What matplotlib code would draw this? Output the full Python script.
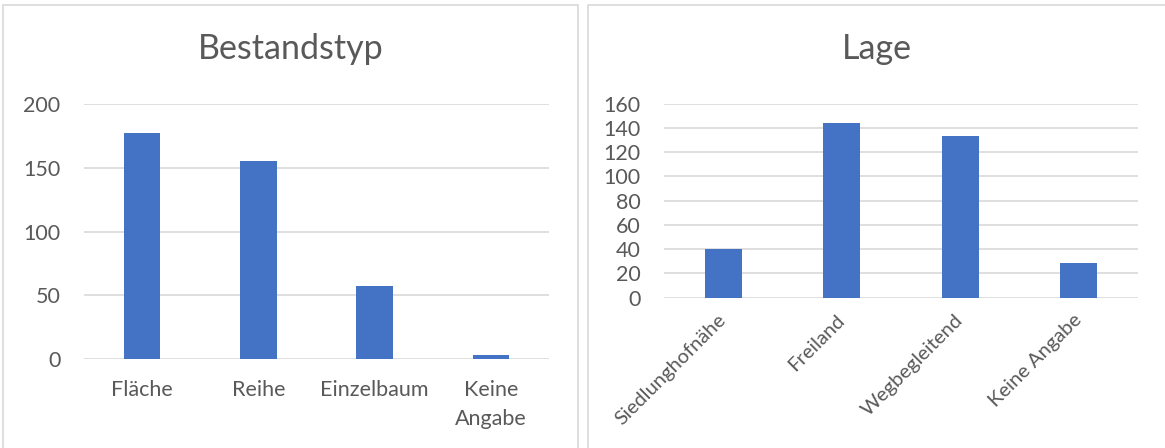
import matplotlib
matplotlib.use("Agg")
import matplotlib.pyplot as plt
from matplotlib.patches import Rectangle

plt.rcParams['font.family'] = ['Lato', 'DejaVu Sans']

# Data
bestand_cats = ["Fläche", "Reihe", "Einzelbaum", "Keine\nAngabe"]
bestand_vals = [177, 155, 57, 3]
lage_cats = ["Siedlunghofnähe", "Freiland", "Wegbegleitend", "Keine Angabe"]
lage_vals = [40, 144, 133, 29]

BAR = "#4472C4"
GRID = "#D9D9D9"
TXT = "#595959"

W, H = 1165, 448
fig = plt.figure(figsize=(W / 100, H / 100), dpi=100)

# panel borders
for x0, x1 in [(3, 578), (588, 1170)]:
    fig.add_artist(Rectangle((x0 / W, -0.1), (x1 - x0) / W, (H - 5) / H + 0.1,
                             transform=fig.transFigure, fill=False,
                             edgecolor=GRID, linewidth=1.2))


def style(ax, ymax, step):
    ax.set_ylim(0, ymax)
    ax.set_yticks(range(0, ymax + 1, step))
    ax.set_xlim(-0.5, 3.5)
    for s in ax.spines.values():
        s.set_visible(False)
    ax.yaxis.grid(True, color=GRID, linewidth=1.2)
    ax.set_axisbelow(True)
    ax.tick_params(axis='both', length=0, colors=TXT, labelsize=15.5)
    ax.tick_params(axis='y', pad=17)


ax1 = fig.add_axes([84 / W, 1 - 359.3 / H, 465 / W, 255.6 / H])
ax1.bar(range(len(bestand_vals)), bestand_vals, width=0.314, color=BAR)
style(ax1, 200, 50)
ax1.set_xticks(range(len(bestand_cats)))
ax1.set_xticklabels(bestand_cats, linespacing=1.55)
ax1.tick_params(axis='x', pad=15)
fig.text(290.5 / W, 1 - 49 / H, "Bestandstyp", ha='center', va='center',
         fontsize=24.5, color=TXT)

ax2 = fig.add_axes([664 / W, 1 - 297.7 / H, 474 / W, 194 / H])
ax2.bar(range(len(lage_vals)), lage_vals, width=0.314, color=BAR)
style(ax2, 160, 20)
ax2.set_xticks(range(len(lage_cats)))
ax2.set_xticklabels(lage_cats, rotation=45, ha='right', va='center',
                    rotation_mode='anchor', fontsize=14.5)
ax2.tick_params(axis='x', pad=14)
fig.text(877 / W, 1 - 49 / H, "Lage", ha='center', va='center',
         fontsize=24.5, color=TXT)

fig.savefig("out.png", dpi=100)
